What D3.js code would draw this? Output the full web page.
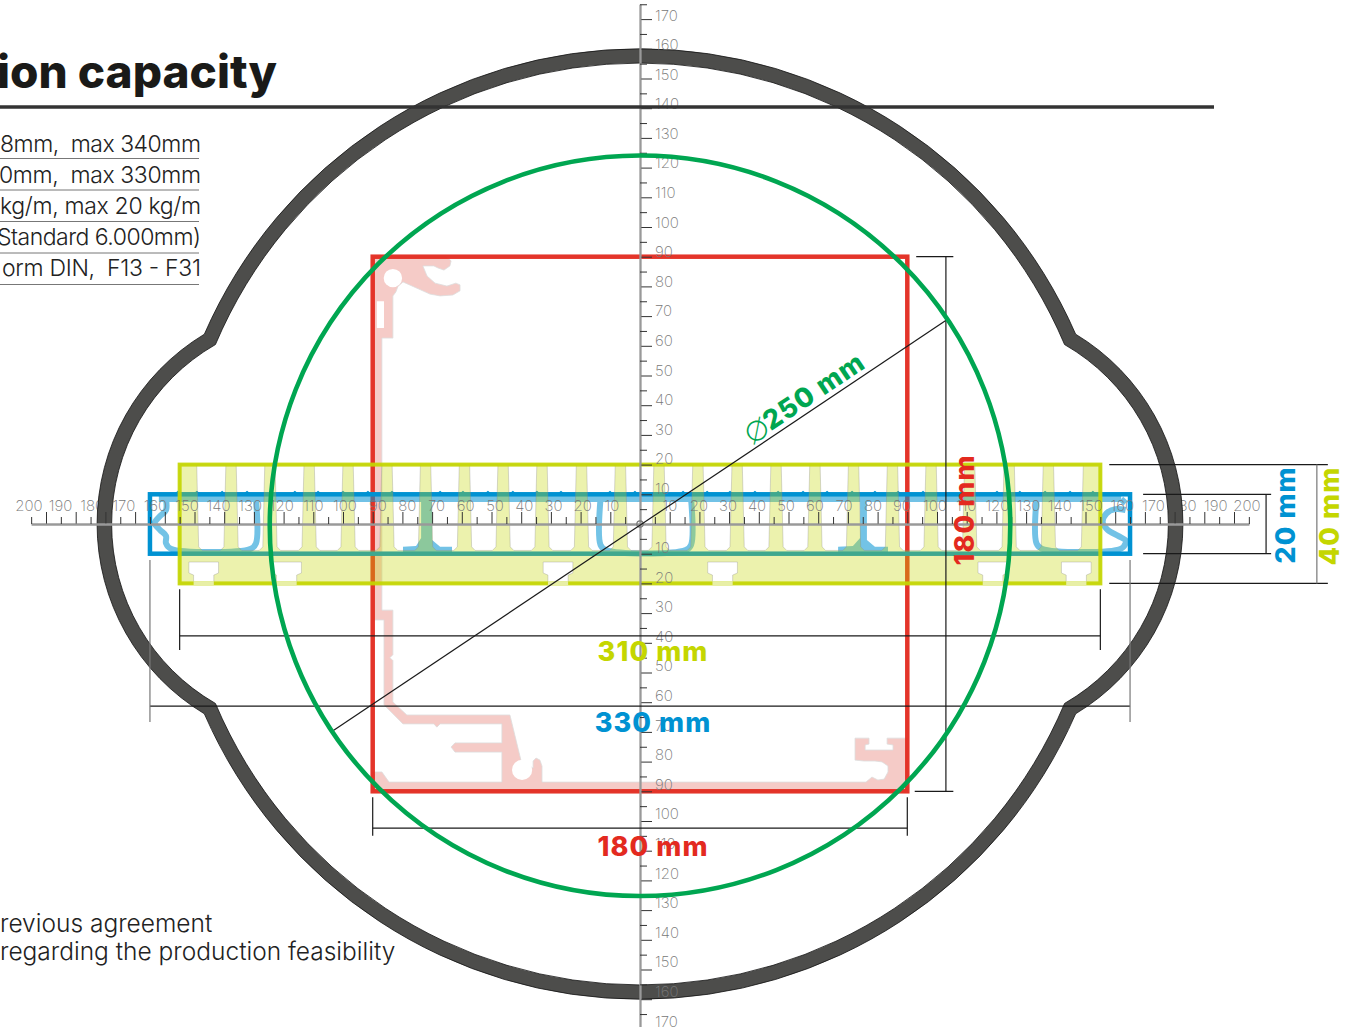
<!DOCTYPE html>
<html>
<head>
<meta charset="utf-8">
<script src="https://cdn.jsdelivr.net/npm/d3@7"></script>
<style>
  html, body { margin: 0; padding: 0; background: #fff; overflow: hidden; }
  text { font-family: Inter, "Open Sans", sans-serif; white-space: pre; }
  .bold { font-weight: 800; font-size: 27px; letter-spacing: 1.1px; }
  .note { font-weight: 300; font-size: 23px; fill: #222; }
  .tick-label { font-weight: 200; font-size: 15px; fill: #777; }
</style>
</head>
<body>
<svg id="chart" width="1351" height="1027"></svg>
<script>
// everything is in mm, measured from the middle of the drawing

const majorTicks = d3.range(-200, 201, 10);
const minorTicks = d3.range(-205, 206, 10);
const verticalLabels = [170, 160, 150, 140, 130, 120, 110, 100, 90, 80, 70, 60, 50, 40, 30, 20, 10, -10, -20, -30, -40, -50, -60, -70, -80, -90, -100, -110, -120, -130, -140, -150, -160, -170];
const horizontalLabels = [-200, -190, -180, -170, -160, -150, -140, -130, -120, -110, -100, -90, -80, -70, -60, -50, -40, -30, -20, -10, 10, 20, 30, 40, 50, 60, 70, 80, 90, 100, 110, 120, 130, 140, 150, 160, 170, 180, 190, 200];

// inner capacity shapes
const greenDiameter = 250;
const redSize = [180, 180];
const yellowSize = [310, 40];
const blueSize = [330, 20];

// outer ring: [main radius, lobe radius] for the outer and the inner edge
const lobeOffset = 108.2;
const ringOuter = [160, 74.6];
const ringInner = [155.2, 69.7];

// yellow heat sink profile
const finCenters = [-151, -137.7, -124.6, -111.4, -98.3, -85.2, -72.2, -59.1, -46.1, -33, -19.7, -6.6, 6.4, 19.5, 32.7, 45.8, 58.9, 71.9, 85, 98, 111, 124.3, 137.5, 151];
const tSlotCenters = [-146.9, -119, -27.6, 27.8, 118.8, 146.9];

// red profile
const redProfile = [[-90, 90], [-65.3, 90], [-63.6, 88.6], [-64, 86.9], [-66, 85.5], [-68, 86.2], [-69.4, 86.9], [-73.1, 86.9], [-71.7, 83.5], [-69, 81.1], [-65, 80.1], [-62, 81.1], [-60.6, 80.5], [-60.6, 78.5], [-63, 77.1], [-67.3, 76.8], [-70.7, 77.4], [-79.8, 81.5], [-81.5, 80], [-82.2, 78.1], [-83.2, 76.8], [-83.2, 62.6], [-86.9, 62.6], [-86.9, -29], [-83.2, -29], [-83.2, -44], [-84.2, -45], [-83.2, -46], [-83.2, -59.9], [-78.5, -64.3], [-43.8, -64.3], [-40.1, -79.5], [-36, -82.2], [-36, -79.8], [-35, -78.8], [-33.7, -79.5], [-33, -81.5], [-33, -86.9], [76.1, -86.9], [78.1, -85.2], [80.1, -86.2], [82.2, -85.9], [83.5, -83.5], [83.5, -81.5], [81.5, -80.1], [79.1, -79.8], [75.4, -79.8], [72.4, -79.5], [72.4, -72.1], [77.1, -72.1], [77.1, -74.1], [75.8, -74.4], [75.8, -76.1], [85.2, -76.1], [85.2, -74.4], [83.2, -74.1], [83.2, -72.1], [90, -72.1], [90, -90], [-90, -90], [-90, -83.5], [-86.9, -83.5], [-84.5, -86.9], [-46.5, -86.9], [-46.5, -76.8], [-62.3, -76.8], [-63.6, -75.1], [-62.3, -73.7], [-46.5, -73.7], [-46.5, -67.3], [-67.3, -67.3], [-68.4, -68.4], [-69.4, -67.3], [-79.8, -67.3], [-86.2, -60.9], [-86.2, -32.3], [-90, -32.3]];
const redHoles = [[-83.2, 82.8, 3.1], [-39.7, -82.8, 3.4]];
const redSlot = [[-88.6, 75], [-86.2, 75], [-86.2, 66], [-88.6, 66]];

// blue profile
const blueWalls = [
  [[-162, 8.4], [162, 8.4]],
  [[-129.3, 8.4], [-129.3, -6.5], [-131, -8.3], [-158, -8.3], [-159.6, -6.5], [-159.6, -4], [-161.6, -2], [-163.4, 0.3], [-161.6, 2.7], [-159.6, 4.7], [-159.6, 8.4]],
  [[-13.3, 8.4], [-13.3, -7], [-11.5, -8.8], [15.4, -8.8], [17.2, -7], [17.2, 8.4]],
  [[133.5, 8.4], [133.5, -6.5], [135.3, -8.3], [162, -8.3], [163.5, -6.5], [163.5, -5.5], [161, -4], [157.5, -2], [155.8, 0.5], [157, 3.5], [160, 5], [163.5, 4.7]],
  [[162, 8.4], [163.5, 7]]
];
const blueStems = [
  [[-73.7, 7.4], [-73.7, -4.7], [-75.4, -7.4], [-79.8, -7.7], [-79.8, -9.8], [-63.3, -9.8], [-63.3, -7.7], [-67.3, -7.7], [-70, -5.4], [-70, 7.4]],
  [[74.1, 7.4], [74.1, -4.7], [71.7, -7.4], [66.7, -7.7], [66.7, -9.8], [83.5, -9.8], [83.5, -7.7], [79.1, -7.7], [76.4, -5.4], [76.4, 7.4]]
];
const blueBumps = [-155.6, -149.2, -140.7, -132.3, -116.2, -108.4, -100, -91.6, -83.5, -67.3, -59.6, -51.2, -42.8, -34.7, -26.6, -10.1, -1.7, 14.5, 22.6, 30.3, 38.7, 46.5, 54.9, 63, 71.4, 79.1, 86.9, 95.3, 120.2, 127.9, 136.4, 144.8, 152.5];

// dimension lines [x1, y1, x2, y2]
const dimLines = [
  [-155, -37.7, 155, -37.7], [-155, -22, -155, -42.4], [155, -22, 155, -42.4],
  [-165, -61.3, 165, -61.3],
  [-90, -102.4, 90, -102.4], [-90, -92, -90, -105], [90, -92, 90, -105],
  [103, 90, 103, -90], [93, 90, 105.5, 90], [92.5, -90, 105.5, -90],
  [210.8, 10, 210.8, -10], [169.4, 10, 212.5, 10], [169.4, -10, 212.5, -10],
  [158, 20, 231.6, 20], [158, -20, 231.6, -20],
  [-104, -70, 103.7, 69]
];
const greyDimLines = [[-165, -12.1, -165, -66.7], [165, -12.1, 165, -66.7], [227.9, 20, 227.9, -20]];

const noteLines = ["8mm,  max 340mm", "0mm,  max 330mm", "kg/m, max 20 kg/m", "Standard 6.000mm)", "orm DIN,  F13 - F31"];
const noteWidths = [201, 202, 201, 204, 199];
const footLines = ["revious agreement", "regarding the production feasibility"];

const colors = { red: "#e32a1f", green: "#00a651", blue: "#0092d2", yellow: "#c4d600", ring: "#4d4d4b" };

const k = 2.97;
const cx = 640, cy = 524;
const x = d3.scaleLinear().domain([-205, 205]).range([cx - 205 * k, cx + 205 * k]);
const y = d3.scaleLinear().domain([-175, 175]).range([cy + 175 * k, cy - 175 * k]);
// the printed numbers do not sit quite over their ticks
const xLabel = d3.scaleLinear()
  .domain([-200, -100, -90, -10, 10, 90, 100, 200])
  .range([29, 345, 378, 612, 670, 902, 935, 1247]);
const yLabel = d3.scaleLinear().domain([-170, 170]).range([1021, 15]);

const svg = d3.select("#chart");
const line = d3.line().x(d => x(d[0])).y(d => y(d[1]));
const curve = d3.line().x(d => x(d[0])).y(d => y(d[1])).curve(d3.curveCatmullRom.alpha(0.5));
const closed = pts => line(pts) + "Z";

function rect(size, color, width) {
  return svg.append("rect")
    .attr("x", x(-size[0] / 2)).attr("y", y(size[1] / 2))
    .attr("width", x(size[0] / 2) - x(-size[0] / 2))
    .attr("height", y(-size[1] / 2) - y(size[1] / 2))
    .attr("fill", "none")
    .attr("stroke", color).attr("stroke-width", width);
}

// red
svg.append("path")
  .attr("d", closed(redProfile))
  .attr("fill", "#f5cbc7")
  .attr("stroke", "#ddd").attr("stroke-width", 0.8);
svg.append("g").selectAll("circle").data(redHoles).join("circle")
  .attr("cx", d => x(d[0])).attr("cy", d => y(d[1]))
  .attr("r", d => d[2] * k)
  .attr("fill", "#fff");
svg.append("path").attr("d", closed(redSlot)).attr("fill", "#fff");
rect(redSize, colors.red, 4.5).attr("stroke-opacity", 0.95);

// blue
rect(blueSize, colors.blue, 4.5);
svg.append("g").selectAll("path").data(blueBumps).join("path")
  .attr("d", d => closed([[d - 0.9, 10.4], [d, 11.2], [d + 0.9, 10.4]]))
  .attr("fill", colors.blue);
const blueProfile = svg.append("g").attr("opacity", 0.55);
blueProfile.selectAll("path.wall").data(blueWalls).join("path")
  .attr("class", "wall")
  .attr("d", curve)
  .attr("fill", "none")
  .attr("stroke", colors.blue).attr("stroke-width", 6)
  .attr("stroke-linejoin", "round");
blueProfile.selectAll("path.stem").data(blueStems).join("path")
  .attr("class", "stem")
  .attr("d", closed)
  .attr("fill", colors.blue);

// yellow: outer block with the slots cut out
const halfH = yellowSize[1] / 2, halfW = yellowSize[0] / 2;
let heatSink = closed([[-halfW, halfH], [halfW, halfH], [halfW, -halfH], [-halfW, -halfH]]);
d3.pairs(finCenters).forEach(([a, b]) => {
  heatSink += closed([[a + 1.75, 19.8], [b - 1.75, 19.8], [b - 2.4, -7.7], [b - 3.6, -8.9], [a + 3.6, -8.9], [a + 2.4, -7.7]]);
});
tSlotCenters.forEach(c => {
  heatSink += closed([[c - 5, -12.8], [c + 5, -12.8], [c + 5, -16.5], [c + 3.4, -17.2], [c + 3.4, -20], [c - 3.4, -20], [c - 3.4, -17.2], [c - 5, -16.5]]);
});
svg.append("path")
  .attr("d", heatSink)
  .attr("fill", colors.yellow).attr("fill-opacity", 0.32)
  .attr("fill-rule", "evenodd")
  .attr("stroke", "#888").attr("stroke-opacity", 0.4).attr("stroke-width", 0.8);
rect(yellowSize, colors.yellow, 4).attr("stroke-opacity", 0.92);
svg.append("g").selectAll("line").data(tSlotCenters).join("line")
  .attr("x1", d => x(d - 3.4)).attr("x2", d => x(d + 3.4))
  .attr("y1", y(-20)).attr("y2", y(-20))
  .attr("stroke", "#e8efa6").attr("stroke-width", 4.5);

// horizontal numbers go under the ring
svg.append("g").selectAll("text").data(horizontalLabels).join("text")
  .attr("class", "tick-label")
  .attr("x", d => xLabel(d))
  .attr("y", y(0) - 13)
  .attr("text-anchor", "middle")
  .text(d => Math.abs(d));

// ring
function ringPath(path, edge) {
  const R = edge[0] * k, r = edge[1] * k, c = lobeOffset * k;
  const X = (R * R + c * c - r * r) / (2 * c);
  const Y = Math.sqrt(R * R - X * X);
  const a = Math.atan2(Y, X), b = Math.atan2(Y, X - c);
  path.arc(cx, cy, R, -Math.PI + a, -a);
  path.arc(cx + c, cy, r, -b, b);
  path.arc(cx, cy, R, a, Math.PI - a);
  path.arc(cx - c, cy, r, Math.PI - b, Math.PI + b);
  path.closePath();
}
const ring = d3.path();
ringPath(ring, ringOuter);
ringPath(ring, ringInner);
svg.append("path")
  .attr("d", ring.toString())
  .attr("fill", colors.ring)
  .attr("fill-rule", "evenodd")
  .attr("stroke", "#111")
  .attr("stroke-width", 0.8);

// axes
function styleAxis(g) {
  g.selectAll(".domain").attr("stroke", "#999").attr("stroke-width", 1.8);
  g.selectAll(".tick line").attr("stroke", "#333").attr("stroke-width", 1);
  g.selectAll(".tick text").remove();
}
[[majorTicks, 12], [minorTicks, 7]].forEach(([vals, size]) => {
  svg.append("g").attr("transform", `translate(0,${cy})`)
    .call(d3.axisTop(x).tickValues(vals).tickSize(size).tickSizeOuter(0))
    .call(styleAxis);
  svg.append("g").attr("transform", `translate(${cx},0)`)
    .call(d3.axisRight(y).tickValues(vals.filter(d => Math.abs(d) <= 175)).tickSize(size).tickSizeOuter(0))
    .call(styleAxis);
});

svg.append("g").selectAll("text").data(verticalLabels).join("text")
  .attr("class", "tick-label")
  .attr("x", x(0) + 15)
  .attr("y", d => yLabel(d) + 5.5)
  .text(d => Math.abs(d));

// title and notes
svg.append("text")
  .attr("x", 277).attr("y", 88)
  .attr("text-anchor", "end")
  .attr("font-weight", 800).attr("font-size", 46).attr("fill", "#1a1a18")
  .text("ion capacity");
svg.append("line")
  .attr("x1", 0).attr("x2", 1214).attr("y1", 107).attr("y2", 107)
  .attr("stroke", "#333").attr("stroke-width", 3.5);

svg.append("g").selectAll("text").data(noteLines).join("text")
  .attr("class", "note")
  .attr("x", (d, i) => 201 - noteWidths[i])
  .attr("y", (d, i) => 152 + i * 31)
  .attr("textLength", (d, i) => noteWidths[i])
  .attr("lengthAdjust", "spacing")
  .text(d => d);
svg.append("g").selectAll("line").data(noteLines).join("line")
  .attr("x1", 0).attr("x2", 199)
  .attr("y1", (d, i) => 158.5 + i * 31.5)
  .attr("y2", (d, i) => 158.5 + i * 31.5)
  .attr("stroke", "#777").attr("stroke-width", 1);

svg.append("g").selectAll("text").data(footLines).join("text")
  .attr("class", "note")
  .style("font-size", "24.5px")
  .attr("x", 0)
  .attr("y", (d, i) => 932 + i * 28)
  .text(d => d);

// middle of the axes
svg.append("circle")
  .attr("cx", cx).attr("cy", cy).attr("r", 3.2)
  .attr("fill", "none").attr("stroke", "#777").attr("stroke-width", 1.2);

// dimension lines
svg.append("g").selectAll("line").data(dimLines).join("line")
  .attr("x1", d => x(d[0])).attr("y1", d => y(d[1]))
  .attr("x2", d => x(d[2])).attr("y2", d => y(d[3]))
  .attr("stroke", "#1a1a1a").attr("stroke-width", 1.2);
svg.append("g").selectAll("line").data(greyDimLines).join("line")
  .attr("x1", d => x(d[0])).attr("y1", d => y(d[1]))
  .attr("x2", d => x(d[2])).attr("y2", d => y(d[3]))
  .attr("stroke", "#777").attr("stroke-width", 1.2);

// green circle
svg.append("circle")
  .attr("cx", x(0)).attr("cy", y(-0.6))
  .attr("r", greenDiameter / 2 * k - 1)
  .attr("fill", "none")
  .attr("stroke", colors.green).attr("stroke-width", 4.6);

// dimension texts
const dimTexts = [
  { t: "310 mm", c: colors.yellow, px: 653, py: 661, rot: 0 },
  { t: "330 mm", c: colors.blue, px: 653, py: 732, rot: 0 },
  { t: "180 mm", c: colors.red, px: 653, py: 856, rot: 0 },
  { t: "180 mm", c: colors.red, px: 974, py: 510, rot: -90 },
  { t: "20 mm", c: colors.blue, px: 1295, py: 515, rot: -90 },
  { t: "40 mm", c: colors.yellow, px: 1339, py: 516, rot: -90 },
  { t: "250 mm", c: colors.green, px: 819, py: 399, rot: -33.8 }
];
svg.append("g").selectAll("text").data(dimTexts).join("text")
  .attr("class", "bold")
  .attr("text-anchor", "middle")
  .attr("fill", d => d.c)
  .attr("transform", d => `translate(${d.px},${d.py}) rotate(${d.rot})`)
  .text(d => d.t);
svg.append("text")
  .attr("transform", "translate(755,428) rotate(-33.8)")
  .attr("text-anchor", "middle")
  .attr("dominant-baseline", "central")
  .attr("font-weight", 200).attr("font-size", 36).attr("fill", colors.green)
  .text("∅");
</script>
</body>
</html>
